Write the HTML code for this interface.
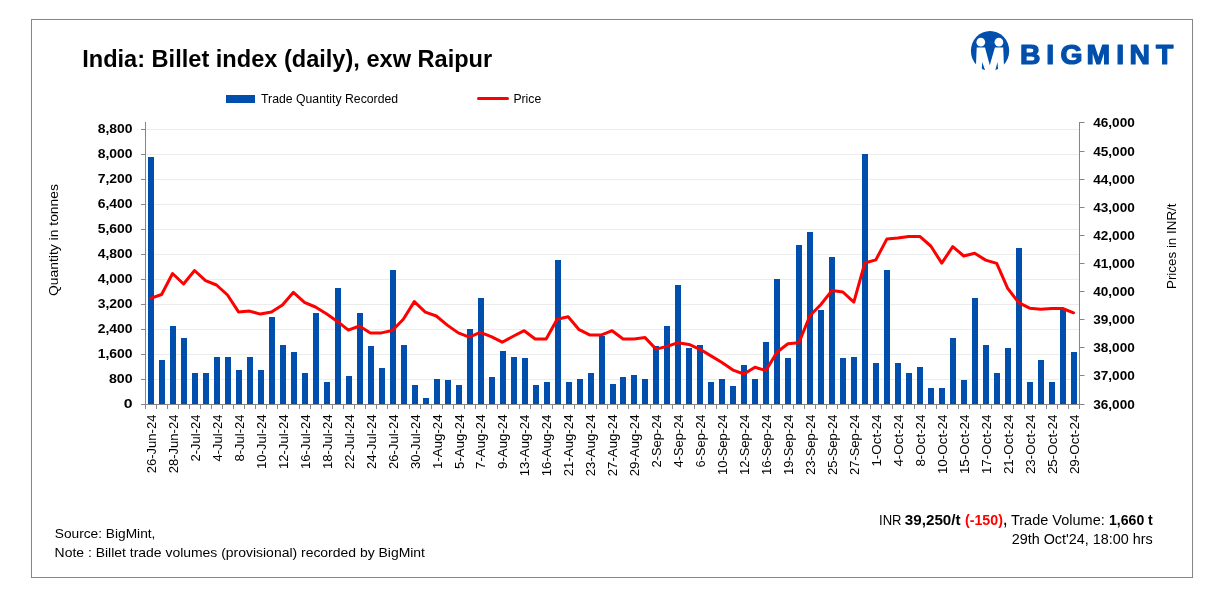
<!DOCTYPE html>
<html lang="en">
<head>
<meta charset="utf-8">
<title>India: Billet index (daily), exw Raipur</title>
<style>
html,body{margin:0;padding:0;background:#fff;}
body{width:1226px;height:606px;overflow:hidden;font-family:"Liberation Sans",sans-serif;}
svg{display:block;}
</style>
</head>
<body>
<svg width="1226" height="606" viewBox="0 0 1226 606" font-family='"Liberation Sans", sans-serif'>
<rect width="1226" height="606" fill="#fff"/>
<rect x="31.5" y="19.5" width="1161" height="558" fill="none" stroke="#868686" stroke-width="1"/>
<g stroke="#ececec" stroke-width="1">
<line x1="146" x2="1079" y1="379.5" y2="379.5"/>
<line x1="146" x2="1079" y1="354.5" y2="354.5"/>
<line x1="146" x2="1079" y1="329.5" y2="329.5"/>
<line x1="146" x2="1079" y1="304.5" y2="304.5"/>
<line x1="146" x2="1079" y1="279.5" y2="279.5"/>
<line x1="146" x2="1079" y1="254.5" y2="254.5"/>
<line x1="146" x2="1079" y1="229.5" y2="229.5"/>
<line x1="146" x2="1079" y1="204.5" y2="204.5"/>
<line x1="146" x2="1079" y1="179.5" y2="179.5"/>
<line x1="146" x2="1079" y1="154.5" y2="154.5"/>
<line x1="146" x2="1079" y1="129.5" y2="129.5"/>
</g>
<g fill="#004fac">
<rect x="148" y="157" width="6" height="247"/>
<rect x="159" y="360" width="6" height="44"/>
<rect x="170" y="326" width="6" height="78"/>
<rect x="181" y="338" width="6" height="66"/>
<rect x="192" y="373" width="6" height="31"/>
<rect x="203" y="373" width="6" height="31"/>
<rect x="214" y="357" width="6" height="47"/>
<rect x="225" y="357" width="6" height="47"/>
<rect x="236" y="370" width="6" height="34"/>
<rect x="247" y="357" width="6" height="47"/>
<rect x="258" y="370" width="6" height="34"/>
<rect x="269" y="317" width="6" height="87"/>
<rect x="280" y="345" width="6" height="59"/>
<rect x="291" y="352" width="6" height="52"/>
<rect x="302" y="373" width="6" height="31"/>
<rect x="313" y="313" width="6" height="91"/>
<rect x="324" y="382" width="6" height="22"/>
<rect x="335" y="288" width="6" height="116"/>
<rect x="346" y="376" width="6" height="28"/>
<rect x="357" y="313" width="6" height="91"/>
<rect x="368" y="346" width="6" height="58"/>
<rect x="379" y="368" width="6" height="36"/>
<rect x="390" y="270" width="6" height="134"/>
<rect x="401" y="345" width="6" height="59"/>
<rect x="412" y="385" width="6" height="19"/>
<rect x="423" y="398" width="6" height="6"/>
<rect x="434" y="379" width="6" height="25"/>
<rect x="445" y="380" width="6" height="24"/>
<rect x="456" y="385" width="6" height="19"/>
<rect x="467" y="329" width="6" height="75"/>
<rect x="478" y="298" width="6" height="106"/>
<rect x="489" y="377" width="6" height="27"/>
<rect x="500" y="351" width="6" height="53"/>
<rect x="511" y="357" width="6" height="47"/>
<rect x="522" y="358" width="6" height="46"/>
<rect x="533" y="385" width="6" height="19"/>
<rect x="544" y="382" width="6" height="22"/>
<rect x="555" y="260" width="6" height="144"/>
<rect x="566" y="382" width="6" height="22"/>
<rect x="577" y="379" width="6" height="25"/>
<rect x="588" y="373" width="6" height="31"/>
<rect x="599" y="336" width="6" height="68"/>
<rect x="610" y="384" width="6" height="20"/>
<rect x="620" y="377" width="6" height="27"/>
<rect x="631" y="375" width="6" height="29"/>
<rect x="642" y="379" width="6" height="25"/>
<rect x="653" y="346" width="6" height="58"/>
<rect x="664" y="326" width="6" height="78"/>
<rect x="675" y="285" width="6" height="119"/>
<rect x="686" y="348" width="6" height="56"/>
<rect x="697" y="345" width="6" height="59"/>
<rect x="708" y="382" width="6" height="22"/>
<rect x="719" y="379" width="6" height="25"/>
<rect x="730" y="386" width="6" height="18"/>
<rect x="741" y="365" width="6" height="39"/>
<rect x="752" y="379" width="6" height="25"/>
<rect x="763" y="342" width="6" height="62"/>
<rect x="774" y="279" width="6" height="125"/>
<rect x="785" y="358" width="6" height="46"/>
<rect x="796" y="245" width="6" height="159"/>
<rect x="807" y="232" width="6" height="172"/>
<rect x="818" y="310" width="6" height="94"/>
<rect x="829" y="257" width="6" height="147"/>
<rect x="840" y="358" width="6" height="46"/>
<rect x="851" y="357" width="6" height="47"/>
<rect x="862" y="154" width="6" height="250"/>
<rect x="873" y="363" width="6" height="41"/>
<rect x="884" y="270" width="6" height="134"/>
<rect x="895" y="363" width="6" height="41"/>
<rect x="906" y="373" width="6" height="31"/>
<rect x="917" y="367" width="6" height="37"/>
<rect x="928" y="388" width="6" height="16"/>
<rect x="939" y="388" width="6" height="16"/>
<rect x="950" y="338" width="6" height="66"/>
<rect x="961" y="380" width="6" height="24"/>
<rect x="972" y="298" width="6" height="106"/>
<rect x="983" y="345" width="6" height="59"/>
<rect x="994" y="373" width="6" height="31"/>
<rect x="1005" y="348" width="6" height="56"/>
<rect x="1016" y="248" width="6" height="156"/>
<rect x="1027" y="382" width="6" height="22"/>
<rect x="1038" y="360" width="6" height="44"/>
<rect x="1049" y="382" width="6" height="22"/>
<rect x="1060" y="310" width="6" height="94"/>
<rect x="1071" y="352" width="6" height="52"/>
</g>
<g stroke="#868686" stroke-width="1" fill="none">
<path d="M145.5 122V405M1079.5 122V405M141 404.5H1080"/>
<path d="M141 404.5H145M141 379.5H145M141 354.5H145M141 329.5H145M141 304.5H145M141 279.5H145M141 254.5H145M141 229.5H145M141 204.5H145M141 179.5H145M141 154.5H145M141 129.5H145M1080 404.5H1084.5M1080 375.5H1084.5M1080 347.5H1084.5M1080 319.5H1084.5M1080 291.5H1084.5M1080 263.5H1084.5M1080 235.5H1084.5M1080 207.5H1084.5M1080 179.5H1084.5M1080 151.5H1084.5M1080 122.5H1084.5M145.5 405V409M156.5 405V409M167.5 405V409M178.5 405V409M189.5 405V409M200.5 405V409M211.5 405V409M222.5 405V409M233.5 405V409M244.5 405V409M255.5 405V409M266.5 405V409M277.5 405V409M288.5 405V409M299.5 405V409M310.5 405V409M321.5 405V409M332.5 405V409M343.5 405V409M354.5 405V409M365.5 405V409M376.5 405V409M387.5 405V409M398.5 405V409M409.5 405V409M420.5 405V409M431.5 405V409M442.5 405V409M453.5 405V409M464.5 405V409M475.5 405V409M486.5 405V409M497.5 405V409M508.5 405V409M519.5 405V409M530.5 405V409M541.5 405V409M552.5 405V409M563.5 405V409M574.5 405V409M585.5 405V409M596.5 405V409M607.5 405V409M617.5 405V409M628.5 405V409M639.5 405V409M650.5 405V409M661.5 405V409M672.5 405V409M683.5 405V409M694.5 405V409M705.5 405V409M716.5 405V409M727.5 405V409M738.5 405V409M749.5 405V409M760.5 405V409M771.5 405V409M782.5 405V409M793.5 405V409M804.5 405V409M815.5 405V409M826.5 405V409M837.5 405V409M848.5 405V409M859.5 405V409M870.5 405V409M881.5 405V409M892.5 405V409M903.5 405V409M914.5 405V409M925.5 405V409M936.5 405V409M947.5 405V409M958.5 405V409M969.5 405V409M980.5 405V409M991.5 405V409M1002.5 405V409M1013.5 405V409M1024.5 405V409M1035.5 405V409M1046.5 405V409M1057.5 405V409M1068.5 405V409M1079.5 405V409"/>
</g>
<polyline points="150.59,298.4 161.58,294.5 172.57,273.5 183.56,284 194.55,270.5 205.54,280.6 216.52,285 227.51,295 238.5,311.9 249.49,311.1 260.48,314.1 271.46,312.1 282.45,305 293.44,292.3 304.43,302.3 315.42,307 326.41,313.8 337.39,321.4 348.38,330.2 359.37,326 370.36,332.9 381.35,332.9 392.34,330.5 403.32,319.2 414.31,301.6 425.3,312.1 436.29,316 447.28,325.1 458.26,332.9 469.25,337.1 480.24,332.4 491.23,336.6 502.22,342.2 513.21,336.3 524.19,330.7 535.18,339 546.17,339 557.16,319.2 568.15,316.8 579.14,329.7 590.12,335.1 601.11,335.1 612.1,330.7 623.09,339 634.08,339 645.06,337.6 656.05,349.1 667.04,346.4 678.03,342.7 689.02,344.4 700.01,349.3 710.99,355.9 721.98,362.5 732.97,370.1 743.96,374 754.95,367.2 765.94,370.6 776.92,352.2 787.91,343.7 798.9,342.7 809.89,315.8 820.88,304.5 831.86,290.6 842.85,292 853.84,302.1 864.83,263 875.82,259.9 886.81,239.1 897.79,238.1 908.78,236.4 919.77,236.4 930.76,246 941.75,263.1 952.74,246.7 963.72,256 974.71,253.3 985.7,260.1 996.69,263.4 1007.68,288.3 1018.66,302.6 1029.65,308.2 1040.64,309.2 1051.63,308.4 1062.62,308.5 1073.61,312.8" fill="none" stroke="#ff0000" stroke-width="3" stroke-linejoin="round" stroke-linecap="round"/>
<text x="132.6" y="408.2" font-size="13" font-weight="bold" textLength="8.8" lengthAdjust="spacingAndGlyphs" text-anchor="end">0</text>
<text x="132.6" y="383.2" font-size="13" font-weight="bold" textLength="23.7" lengthAdjust="spacingAndGlyphs" text-anchor="end">800</text>
<text x="132.6" y="358.2" font-size="13" font-weight="bold" textLength="34.9" lengthAdjust="spacingAndGlyphs" text-anchor="end">1,600</text>
<text x="132.6" y="333.2" font-size="13" font-weight="bold" textLength="34.9" lengthAdjust="spacingAndGlyphs" text-anchor="end">2,400</text>
<text x="132.6" y="308.2" font-size="13" font-weight="bold" textLength="34.9" lengthAdjust="spacingAndGlyphs" text-anchor="end">3,200</text>
<text x="132.6" y="283.2" font-size="13" font-weight="bold" textLength="34.9" lengthAdjust="spacingAndGlyphs" text-anchor="end">4,000</text>
<text x="132.6" y="258.2" font-size="13" font-weight="bold" textLength="34.9" lengthAdjust="spacingAndGlyphs" text-anchor="end">4,800</text>
<text x="132.6" y="233.2" font-size="13" font-weight="bold" textLength="34.9" lengthAdjust="spacingAndGlyphs" text-anchor="end">5,600</text>
<text x="132.6" y="208.2" font-size="13" font-weight="bold" textLength="34.9" lengthAdjust="spacingAndGlyphs" text-anchor="end">6,400</text>
<text x="132.6" y="183.2" font-size="13" font-weight="bold" textLength="34.9" lengthAdjust="spacingAndGlyphs" text-anchor="end">7,200</text>
<text x="132.6" y="158.2" font-size="13" font-weight="bold" textLength="34.9" lengthAdjust="spacingAndGlyphs" text-anchor="end">8,000</text>
<text x="132.6" y="133.2" font-size="13" font-weight="bold" textLength="34.9" lengthAdjust="spacingAndGlyphs" text-anchor="end">8,800</text>
<text x="1093.2" y="408.8" font-size="13" font-weight="bold" textLength="41.6" lengthAdjust="spacingAndGlyphs">36,000</text>
<text x="1093.2" y="379.8" font-size="13" font-weight="bold" textLength="41.6" lengthAdjust="spacingAndGlyphs">37,000</text>
<text x="1093.2" y="351.8" font-size="13" font-weight="bold" textLength="41.6" lengthAdjust="spacingAndGlyphs">38,000</text>
<text x="1093.2" y="323.8" font-size="13" font-weight="bold" textLength="41.6" lengthAdjust="spacingAndGlyphs">39,000</text>
<text x="1093.2" y="295.8" font-size="13" font-weight="bold" textLength="41.6" lengthAdjust="spacingAndGlyphs">40,000</text>
<text x="1093.2" y="267.8" font-size="13" font-weight="bold" textLength="41.6" lengthAdjust="spacingAndGlyphs">41,000</text>
<text x="1093.2" y="239.8" font-size="13" font-weight="bold" textLength="41.6" lengthAdjust="spacingAndGlyphs">42,000</text>
<text x="1093.2" y="211.8" font-size="13" font-weight="bold" textLength="41.6" lengthAdjust="spacingAndGlyphs">43,000</text>
<text x="1093.2" y="183.8" font-size="13" font-weight="bold" textLength="41.6" lengthAdjust="spacingAndGlyphs">44,000</text>
<text x="1093.2" y="155.8" font-size="13" font-weight="bold" textLength="41.6" lengthAdjust="spacingAndGlyphs">45,000</text>
<text x="1093.2" y="126.8" font-size="13" font-weight="bold" textLength="41.6" lengthAdjust="spacingAndGlyphs">46,000</text>
<text x="155.8" y="414.5" font-size="13" textLength="58.8" lengthAdjust="spacingAndGlyphs" text-anchor="end" transform="rotate(-90 155.8 414.5)">26-Jun-24</text>
<text x="177.8" y="414.5" font-size="13" textLength="58.8" lengthAdjust="spacingAndGlyphs" text-anchor="end" transform="rotate(-90 177.8 414.5)">28-Jun-24</text>
<text x="199.7" y="414.5" font-size="13" textLength="47.0" lengthAdjust="spacingAndGlyphs" text-anchor="end" transform="rotate(-90 199.7 414.5)">2-Jul-24</text>
<text x="221.7" y="414.5" font-size="13" textLength="47.0" lengthAdjust="spacingAndGlyphs" text-anchor="end" transform="rotate(-90 221.7 414.5)">4-Jul-24</text>
<text x="243.7" y="414.5" font-size="13" textLength="47.0" lengthAdjust="spacingAndGlyphs" text-anchor="end" transform="rotate(-90 243.7 414.5)">8-Jul-24</text>
<text x="265.7" y="414.5" font-size="13" textLength="54.5" lengthAdjust="spacingAndGlyphs" text-anchor="end" transform="rotate(-90 265.7 414.5)">10-Jul-24</text>
<text x="287.7" y="414.5" font-size="13" textLength="54.5" lengthAdjust="spacingAndGlyphs" text-anchor="end" transform="rotate(-90 287.7 414.5)">12-Jul-24</text>
<text x="309.6" y="414.5" font-size="13" textLength="54.5" lengthAdjust="spacingAndGlyphs" text-anchor="end" transform="rotate(-90 309.6 414.5)">16-Jul-24</text>
<text x="331.6" y="414.5" font-size="13" textLength="54.5" lengthAdjust="spacingAndGlyphs" text-anchor="end" transform="rotate(-90 331.6 414.5)">18-Jul-24</text>
<text x="353.6" y="414.5" font-size="13" textLength="54.5" lengthAdjust="spacingAndGlyphs" text-anchor="end" transform="rotate(-90 353.6 414.5)">22-Jul-24</text>
<text x="375.6" y="414.5" font-size="13" textLength="54.5" lengthAdjust="spacingAndGlyphs" text-anchor="end" transform="rotate(-90 375.6 414.5)">24-Jul-24</text>
<text x="397.5" y="414.5" font-size="13" textLength="54.5" lengthAdjust="spacingAndGlyphs" text-anchor="end" transform="rotate(-90 397.5 414.5)">26-Jul-24</text>
<text x="419.5" y="414.5" font-size="13" textLength="54.5" lengthAdjust="spacingAndGlyphs" text-anchor="end" transform="rotate(-90 419.5 414.5)">30-Jul-24</text>
<text x="441.5" y="414.5" font-size="13" textLength="54.4" lengthAdjust="spacingAndGlyphs" text-anchor="end" transform="rotate(-90 441.5 414.5)">1-Aug-24</text>
<text x="463.5" y="414.5" font-size="13" textLength="54.4" lengthAdjust="spacingAndGlyphs" text-anchor="end" transform="rotate(-90 463.5 414.5)">5-Aug-24</text>
<text x="485.4" y="414.5" font-size="13" textLength="54.4" lengthAdjust="spacingAndGlyphs" text-anchor="end" transform="rotate(-90 485.4 414.5)">7-Aug-24</text>
<text x="507.4" y="414.5" font-size="13" textLength="54.4" lengthAdjust="spacingAndGlyphs" text-anchor="end" transform="rotate(-90 507.4 414.5)">9-Aug-24</text>
<text x="529.4" y="414.5" font-size="13" textLength="61.8" lengthAdjust="spacingAndGlyphs" text-anchor="end" transform="rotate(-90 529.4 414.5)">13-Aug-24</text>
<text x="551.4" y="414.5" font-size="13" textLength="61.8" lengthAdjust="spacingAndGlyphs" text-anchor="end" transform="rotate(-90 551.4 414.5)">16-Aug-24</text>
<text x="573.3" y="414.5" font-size="13" textLength="61.8" lengthAdjust="spacingAndGlyphs" text-anchor="end" transform="rotate(-90 573.3 414.5)">21-Aug-24</text>
<text x="595.3" y="414.5" font-size="13" textLength="61.8" lengthAdjust="spacingAndGlyphs" text-anchor="end" transform="rotate(-90 595.3 414.5)">23-Aug-24</text>
<text x="617.3" y="414.5" font-size="13" textLength="61.8" lengthAdjust="spacingAndGlyphs" text-anchor="end" transform="rotate(-90 617.3 414.5)">27-Aug-24</text>
<text x="639.3" y="414.5" font-size="13" textLength="61.8" lengthAdjust="spacingAndGlyphs" text-anchor="end" transform="rotate(-90 639.3 414.5)">29-Aug-24</text>
<text x="661.3" y="414.5" font-size="13" textLength="53.0" lengthAdjust="spacingAndGlyphs" text-anchor="end" transform="rotate(-90 661.3 414.5)">2-Sep-24</text>
<text x="683.2" y="414.5" font-size="13" textLength="53.0" lengthAdjust="spacingAndGlyphs" text-anchor="end" transform="rotate(-90 683.2 414.5)">4-Sep-24</text>
<text x="705.2" y="414.5" font-size="13" textLength="53.0" lengthAdjust="spacingAndGlyphs" text-anchor="end" transform="rotate(-90 705.2 414.5)">6-Sep-24</text>
<text x="727.2" y="414.5" font-size="13" textLength="60.5" lengthAdjust="spacingAndGlyphs" text-anchor="end" transform="rotate(-90 727.2 414.5)">10-Sep-24</text>
<text x="749.2" y="414.5" font-size="13" textLength="60.5" lengthAdjust="spacingAndGlyphs" text-anchor="end" transform="rotate(-90 749.2 414.5)">12-Sep-24</text>
<text x="771.1" y="414.5" font-size="13" textLength="60.5" lengthAdjust="spacingAndGlyphs" text-anchor="end" transform="rotate(-90 771.1 414.5)">16-Sep-24</text>
<text x="793.1" y="414.5" font-size="13" textLength="60.5" lengthAdjust="spacingAndGlyphs" text-anchor="end" transform="rotate(-90 793.1 414.5)">19-Sep-24</text>
<text x="815.1" y="414.5" font-size="13" textLength="60.5" lengthAdjust="spacingAndGlyphs" text-anchor="end" transform="rotate(-90 815.1 414.5)">23-Sep-24</text>
<text x="837.1" y="414.5" font-size="13" textLength="60.5" lengthAdjust="spacingAndGlyphs" text-anchor="end" transform="rotate(-90 837.1 414.5)">25-Sep-24</text>
<text x="859.0" y="414.5" font-size="13" textLength="60.5" lengthAdjust="spacingAndGlyphs" text-anchor="end" transform="rotate(-90 859.0 414.5)">27-Sep-24</text>
<text x="881.0" y="414.5" font-size="13" textLength="52.1" lengthAdjust="spacingAndGlyphs" text-anchor="end" transform="rotate(-90 881.0 414.5)">1-Oct-24</text>
<text x="903.0" y="414.5" font-size="13" textLength="52.1" lengthAdjust="spacingAndGlyphs" text-anchor="end" transform="rotate(-90 903.0 414.5)">4-Oct-24</text>
<text x="925.0" y="414.5" font-size="13" textLength="52.1" lengthAdjust="spacingAndGlyphs" text-anchor="end" transform="rotate(-90 925.0 414.5)">8-Oct-24</text>
<text x="946.9" y="414.5" font-size="13" textLength="59.6" lengthAdjust="spacingAndGlyphs" text-anchor="end" transform="rotate(-90 946.9 414.5)">10-Oct-24</text>
<text x="968.9" y="414.5" font-size="13" textLength="59.6" lengthAdjust="spacingAndGlyphs" text-anchor="end" transform="rotate(-90 968.9 414.5)">15-Oct-24</text>
<text x="990.9" y="414.5" font-size="13" textLength="59.6" lengthAdjust="spacingAndGlyphs" text-anchor="end" transform="rotate(-90 990.9 414.5)">17-Oct-24</text>
<text x="1012.9" y="414.5" font-size="13" textLength="59.6" lengthAdjust="spacingAndGlyphs" text-anchor="end" transform="rotate(-90 1012.9 414.5)">21-Oct-24</text>
<text x="1034.9" y="414.5" font-size="13" textLength="59.6" lengthAdjust="spacingAndGlyphs" text-anchor="end" transform="rotate(-90 1034.9 414.5)">23-Oct-24</text>
<text x="1056.8" y="414.5" font-size="13" textLength="59.6" lengthAdjust="spacingAndGlyphs" text-anchor="end" transform="rotate(-90 1056.8 414.5)">25-Oct-24</text>
<text x="1078.8" y="414.5" font-size="13" textLength="59.6" lengthAdjust="spacingAndGlyphs" text-anchor="end" transform="rotate(-90 1078.8 414.5)">29-Oct-24</text>
<text x="58.3" y="296" font-size="12.9" textLength="112" lengthAdjust="spacingAndGlyphs" transform="rotate(-90 58.3 296)">Quantity in tonnes</text>
<text x="1175.6" y="289" font-size="13" textLength="85.5" lengthAdjust="spacingAndGlyphs" transform="rotate(-90 1175.6 289)">Prices in INR/t</text>
<text x="82.2" y="66.7" font-size="24.7" font-weight="bold" textLength="410" lengthAdjust="spacingAndGlyphs">India: Billet index (daily), exw Raipur</text>
<rect x="226" y="95" width="29" height="8" fill="#004fac"/>
<text x="261.1" y="102.7" font-size="12" textLength="137" lengthAdjust="spacingAndGlyphs">Trade Quantity Recorded</text>
<line x1="478.5" x2="507.5" y1="98.5" y2="98.5" stroke="#ff0000" stroke-width="3" stroke-linecap="round"/>
<text x="513.4" y="102.7" font-size="12.2" textLength="27.8" lengthAdjust="spacingAndGlyphs">Price</text>
<text x="54.8" y="537.8" font-size="13.2" textLength="100.6" lengthAdjust="spacingAndGlyphs">Source: BigMint,</text>
<text x="54.6" y="557" font-size="13.2" textLength="370.4" lengthAdjust="spacingAndGlyphs">Note : Billet trade volumes (provisional) recorded by BigMint</text>
<text y="525" font-size="14.7"><tspan x="879" textLength="22.5" lengthAdjust="spacingAndGlyphs">INR</tspan><tspan x="904.8" font-weight="bold" textLength="55.8" lengthAdjust="spacingAndGlyphs">39,250/t</tspan><tspan x="964.9" font-weight="bold" fill="#ff0000" textLength="38" lengthAdjust="spacingAndGlyphs">(-150)</tspan><tspan x="1003.4" font-weight="bold" textLength="3.4" lengthAdjust="spacingAndGlyphs">,</tspan><tspan x="1010.9" textLength="93.9" lengthAdjust="spacingAndGlyphs">Trade Volume:</tspan><tspan x="1109" font-weight="bold" textLength="43.8" lengthAdjust="spacingAndGlyphs">1,660 t</tspan></text>
<text x="1011.7" y="543.6" font-size="14.7" textLength="141.1" lengthAdjust="spacingAndGlyphs">29th Oct'24, 18:00 hrs</text>
<g>
<ellipse cx="990.05" cy="50.85" rx="19.15" ry="19.95" fill="#004fac"/>
<circle cx="980.8" cy="42.2" r="4.35" fill="#fff"/><circle cx="998.9" cy="42.2" r="4.35" fill="#fff"/>
<path fill="#fff" d="M976.7 47.4H985L989.76 65.2L994.9 47.4H1003.2L1004.2 72H998.3L997.5 62L994.9 72H985.7L982.2 62L981.6 72H975.7Z"/>
<text transform="scale(1.05 1)" x="971.34 996.49 1009.97 1034.66 1063.15 1075.78 1101.03" y="63.6" font-size="27.0" font-weight="bold" fill="#004fac" stroke="#004fac" stroke-width="1.2" stroke-linejoin="round">BIGMINT</text>
</g>
</svg>
</body>
</html>
